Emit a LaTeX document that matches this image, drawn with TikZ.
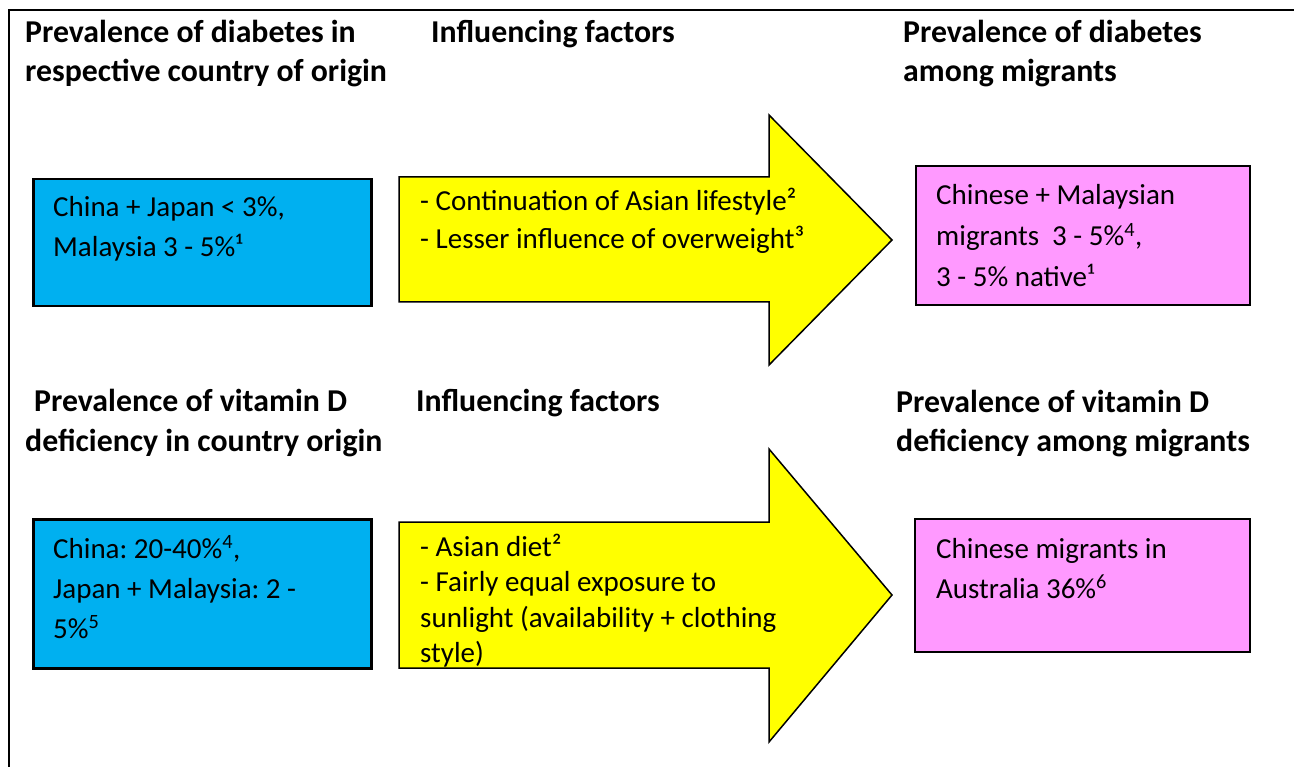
\documentclass[tikz,border=0pt]{standalone}
\usepackage{fontspec}
\setmainfont{Carlito}
\usepackage{tikz}
\usetikzlibrary{calc,positioning}
\frenchspacing

\definecolor{boxblue}{HTML}{00B0F0}
\definecolor{boxpink}{HTML}{FF99FF}
\definecolor{arrowyellow}{HTML}{FFFF00}

% base west of a multi-line node = baseline of its last line
\tikzset{
	heading/.style={font=\bfseries\fontsize{31.8}{39}\selectfont, align=left, anchor=base west, inner sep=0},
	bodytext/.style={font=\fontsize{29}{40}\selectfont, align=left, anchor=base west, inner sep=0},
	originbox/.style={draw, line width=2.5pt, fill=boxblue, anchor=north west, inner sep=0},
	migrantbox/.style={draw, line width=1.8pt, fill=boxpink, anchor=north west, inner sep=0},
	factorarrow/.style={draw, line width=1.5pt, fill=arrowyellow, line join=miter}
}

\begin{document}
\begin{tikzpicture}[x=1pt,y=-1pt]
			
			\useasboundingbox (0,0) rectangle (1294,767);
			\draw[line width=2.7pt] (9,767) -- (9,10) -- (1294,10);
			
			% diabetes
			\node[heading] (dm-h1) at (25,82) {Prevalence of diabetes in\\respective country of origin};
			\node[heading] (dm-h2) at (431,43) {Influencing factors};
			\node[heading] (dm-h3) at (903,82) {Prevalence of diabetes\\among migrants};
			
			\node[originbox, minimum width=338, minimum height=127] (dm-origin) at (32,178) {};
			\node[bodytext] (dm-origin-txt) at ([shift={(21,79)}]dm-origin.north west) {China + Japan < 3\%,\\Malaysia 3 - 5\%¹};
			
			\draw[factorarrow] (399,177) -- (769,177) -- (769,115) -- (892,240) -- (769,365) -- (769,302) -- (399,302) -- cycle;
			\node[bodytext, font=\fontsize{29}{38}\selectfont] (dm-factors) at (420,249) {- Continuation of Asian lifestyle²\\- Lesser influence of overweight³};
			
			\node[migrantbox, minimum width=334, minimum height=139] (dm-migrants) at (915,165) {};
			\node[bodytext, font=\fontsize{29}{41}\selectfont] (dm-migrants-txt) at ([shift={(21,122)}]dm-migrants.north west) {Chinese + Malaysian\\migrants\ \ 3 - 5\%\textsuperscript{4},\\3 - 5\% native¹};
			
			% vitamin D
			\node[heading] (vd-h1) at (34,412) {Prevalence of vitamin D};
			\node[heading] (vd-h1b) at (25,451) {deficiency in country origin};
			\node[heading] (vd-h2) at (416,412) {Influencing factors};
			\node[heading] (vd-h3) at (896,451) {Prevalence of vitamin D\\deficiency among migrants};
			
			\node[originbox, minimum width=338, minimum height=149] (vd-origin) at (32,518) {};
			\node[bodytext] (vd-origin-txt) at ([shift={(21,120)}]vd-origin.north west) {China: 20-40\%\textsuperscript{4},\\Japan + Malaysia: 2 -\\5\%\textsuperscript{5}};
			
			\draw[factorarrow] (399,522) -- (769,522) -- (769,449) -- (892,595) -- (769,742) -- (769,668) -- (399,668) -- cycle;
			\node[bodytext, font=\fontsize{29}{35.5}\selectfont] (vd-factors) at (420,662.5) {- Asian diet²\\- Fairly equal exposure to\\sunlight (availability + clothing\\style)};
			
			\node[migrantbox, minimum width=335, minimum height=133] (vd-migrants) at (914,518) {};
			\node[bodytext] (vd-migrants-txt) at ([shift={(22,80)}]vd-migrants.north west) {Chinese migrants in\\Australia 36\%\textsuperscript{6}};
			
\end{tikzpicture}
\end{document}
